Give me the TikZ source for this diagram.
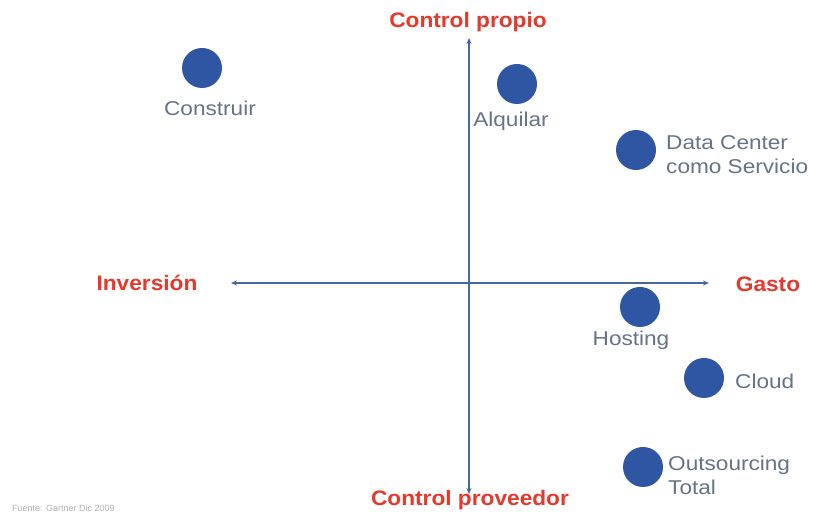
\documentclass[tikz,border=0pt]{standalone}
\usepackage{fontspec}
\setmainfont{Liberation Sans}
\newfontfamily\widesans[FakeStretch=1.13]{Liberation Sans}
\newfontfamily\polesans[FakeStretch=1.08]{Liberation Sans}
\usepackage{xcolor}
\usetikzlibrary{arrows.meta,positioning}
\definecolor{axisblue}{HTML}{46689F}
\definecolor{dotblue}{HTML}{2F56A3}
\definecolor{poleRed}{HTML}{E5392C}
\definecolor{tagGray}{HTML}{66738A}
\tikzset{
  axisarr/.style={-{Stealth[length=6pt,width=5pt]},draw=axisblue,line width=1.6pt},
  option/.style={circle,fill=dotblue,minimum size=40pt,inner sep=0pt},
  pole/.style={font=\polesans\fontsize{21}{24}\selectfont\bfseries,text=poleRed,inner sep=1pt},
  tag/.style={font=\widesans\fontsize{20}{24}\selectfont,text=tagGray,align=left,inner sep=1pt},
  footnote/.style={font=\fontsize{9}{10}\selectfont,text=gray!60,inner sep=0pt}
}

\begin{document}
\begin{tikzpicture}[x=1pt,y=1pt]
      \useasboundingbox[fill=white] (0,0) rectangle (823,516);
      % axes
      \coordinate (origin) at (469,233);
      \coordinate (top) at (469,478);
      \coordinate (bottom) at (469,22);
      \coordinate (left) at (231,233);
      \coordinate (right) at (709,233);
      \draw[axisarr] (origin) -- (top);
      \draw[axisarr] (origin) -- (bottom);
      \draw[axisarr] (origin) -- (left);
      \draw[axisarr] (origin) -- (right);
      \node[pole] (propio) at (468,494) {Control propio};
      \node[pole] (proveedor) at (470,16) {Control proveedor};
      \node[pole] (inversion) at (147,233) {Inversión};
      \node[pole] (gasto) at (768,232) {Gasto};
      % options
      \node[option] (construir) at (202,448) {};
      \node[tag] at (210,408) {Construir};
      \node[option] (alquilar) at (517,432) {};
      \node[tag] at (511,395) {Alquilar};
      \node[option] (dcs) at (636,366) {};
      \node[tag,anchor=west] at (665,361) {Data Center\\como Servicio};
      \node[option] (hosting) at (640,209) {};
      \node[tag] at (631,176) {Hosting};
      \node[option] (cloud) at (704,138) {};
      \node[tag,anchor=west] at (734,135) {Cloud};
      \node[option] (outsourcing) at (643,49) {};
      \node[tag,anchor=west] at (667,41) {Outsourcing\\Total};
      \node[footnote,anchor=west] (fuente) at (12,8) {Fuente: Gartner Dic 2009};
    \end{tikzpicture}
\end{document}
